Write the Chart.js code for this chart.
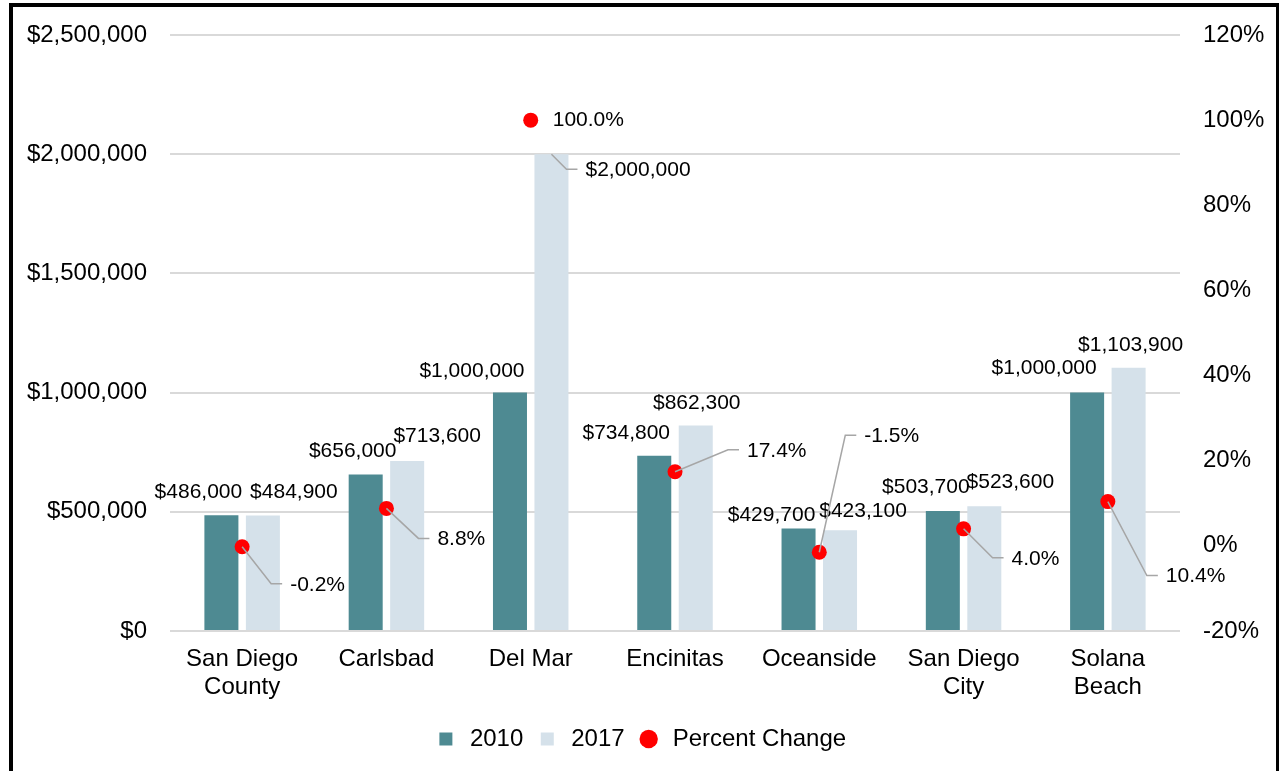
<!DOCTYPE html>
<html>
<head>
<meta charset="utf-8">
<script src="https://cdn.jsdelivr.net/npm/chart.js@4"></script>
<style>
  body { margin: 0; background: #fff; }
  #wrap { position: relative; width: 1280px; height: 771px; }
  #frame { position: absolute; left: 9px; top: 3px; width: 1263px; height: 820px;
           border: 4px solid #000; border-right-width: 3px; pointer-events: none; }
</style>
</head>
<body>
<div id="wrap">
  <canvas id="housing-chart" width="1280" height="771"></canvas>
  <div id="frame"></div>
</div>
<script>
// median home values by area
var areas = [['San Diego', 'County'], 'Carlsbad', 'Del Mar', 'Encinitas', 'Oceanside', ['San Diego', 'City'], ['Solana', 'Beach']];
var values2010 = [486000, 656000, 1000000, 734800, 429700, 503700, 1000000];
var values2017 = [484900, 713600, 2000000, 862300, 423100, 523600, 1103900];
var percentChange = [-0.2, 8.8, 100.0, 17.4, -1.5, 4.0, 10.4];

var FONT = "'Liberation Sans', Arial, sans-serif";

// where each data label sits (Excel moved a few by hand)
// {c:[dx,dy]} centred text, {lead:[dx,dy]} leader line + text, {left:[dx,dy]} text to the right
var place2010 = [{c:[-23,-23]}, {c:[-13,-23]}, {c:[-38,-21]}, {c:[-28,-23]}, {c:[-27,-13]}, {c:[-17,-24]}, {c:[-43,-24]}];
var place2017 = [{c:[31,-23]}, {c:[30,-25]}, {lead:[15,15]}, {c:[1,-22]}, {c:[23,-19]}, {c:[26,-24]}, {c:[2,-23]}];
var placePct = [{lead:[29,37]}, {lead:[32,30]}, {left:[22,0]}, {lead:[53,-22]}, {lead:[26,-117]}, {lead:[29,29]}, {lead:[39,74]}];

function money(v) { return '$' + v.toLocaleString('en-US'); }

function drawLabel(ctx, x, y, text, p) {
  ctx.save();
  ctx.font = '21px ' + FONT;
  ctx.fillStyle = '#000';
  ctx.textBaseline = 'middle';
  if (p.c) {
    ctx.textAlign = 'center';
    ctx.fillText(text, x + p.c[0], y + p.c[1]);
  } else if (p.left) {
    ctx.textAlign = 'left';
    ctx.fillText(text, x + p.left[0], y + p.left[1]);
  } else {
    var ex = x + p.lead[0], ey = y + p.lead[1];
    ctx.strokeStyle = '#A6A6A6';
    ctx.lineWidth = 1.5;
    ctx.beginPath();
    ctx.moveTo(x, y);
    ctx.lineTo(ex, ey);
    ctx.lineTo(ex + 11, ey);
    ctx.stroke();
    ctx.textAlign = 'left';
    ctx.fillText(text, ex + 19, ey + 1);
  }
  ctx.restore();
}

var labelPlugin = {
  id: 'labels',
  afterDatasetsDraw: function(chart) {
    var ctx = chart.ctx;
    var sets = [[values2010, place2010, money], [values2017, place2017, money],
                [percentChange, placePct, function(v) { return v.toFixed(1) + '%'; }]];
    sets.forEach(function(s, i) {
      chart.getDatasetMeta(i).data.forEach(function(el, j) {
        drawLabel(ctx, el.x, el.y, s[2](s[0][j]), s[1][j]);
      });
    });
  }
};

var legendStyles = ['rect', 'rect', 'circle'];

var ctx1 = document.getElementById('housing-chart').getContext('2d');

var chart = new Chart(ctx1, {
  type: 'bar',
  data: {
    labels: areas,
    datasets: [{
      label: '2010',
      data: values2010,
      backgroundColor: '#4E8A92',
      categoryPercentage: 0.575,
      barPercentage: 0.82,
      order: 2
    }, {
      label: '2017',
      data: values2017,
      backgroundColor: '#D5E1EA',
      categoryPercentage: 0.575,
      barPercentage: 0.82,
      order: 2
    }, {
      type: 'line',
      label: 'Percent Change',
      data: percentChange,
      yAxisID: 'y1',
      showLine: false,
      borderColor: '#FF0000',
      backgroundColor: '#FF0000',
      pointRadius: 7.5,
      pointBorderWidth: 0,
      order: 1
    }]
  },
  options: {
    responsive: false,
    animation: false,
    layout: { padding: { top: 35, bottom: 10, left: 0, right: 0 } },
    plugins: {
      tooltip: { enabled: false },
      legend: {
        position: 'bottom',
        labels: {
          font: { family: FONT, size: 24 },
          color: '#000',
          usePointStyle: true,
          boxHeight: 13,
          padding: 12,
          sort: function(a, b) { return a.datasetIndex - b.datasetIndex; },
          generateLabels: function(c) {
            var items = Chart.defaults.plugins.legend.labels.generateLabels(c);
            items.forEach(function(it) {
              it.pointStyle = legendStyles[it.datasetIndex];
              it.lineWidth = 0;
            });
            return items;
          }
        }
      }
    },
    scales: {
      x: {
        grid: { display: false, drawTicks: false },
        border: { display: false },
        ticks: { font: { family: FONT, size: 24, lineHeight: 1.167 }, color: '#000', padding: 14, maxRotation: 0 },
        afterFit: function(s) { s.height = 84; }
      },
      y: {
        min: 0, max: 2500000,
        ticks: { stepSize: 500000, callback: function(v) { return money(v); },
                 font: { family: FONT, size: 24 }, color: '#000', padding: 23 },
        grid: { color: '#D9D9D9', lineWidth: 2, drawTicks: false },
        border: { display: false },
        afterFit: function(s) { s.width = 170; s.paddingTop = 0; s.paddingBottom = 0; }
      },
      y1: {
        position: 'right',
        min: -20, max: 120,
        ticks: { stepSize: 20, callback: function(v) { return v + '%'; },
                 font: { family: FONT, size: 24 }, color: '#000', padding: 23 },
        grid: { display: false, drawTicks: false },
        border: { display: false },
        afterFit: function(s) { s.width = 100; s.paddingTop = 0; s.paddingBottom = 0; }
      }
    }
  },
  plugins: [labelPlugin]
});
</script>
</body>
</html>
